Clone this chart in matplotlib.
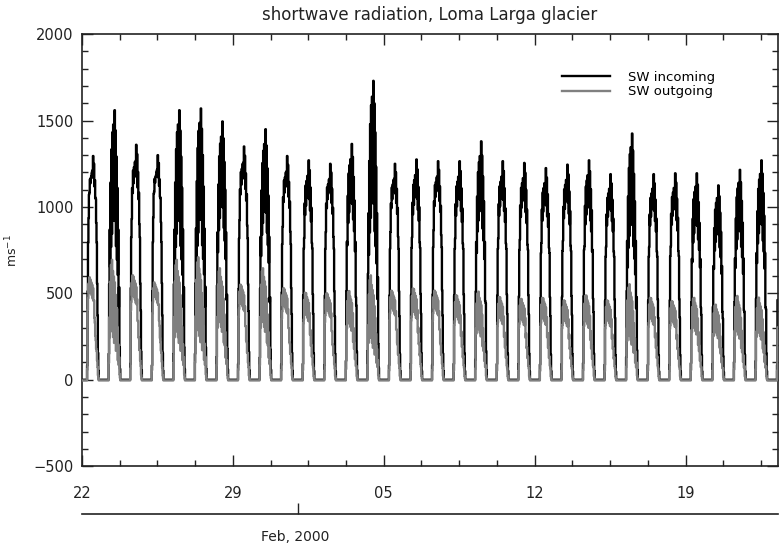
import numpy as np
import pandas as pd
import matplotlib
matplotlib.use("Agg")
import matplotlib.pyplot as plt
import matplotlib.dates as mdates
from matplotlib.ticker import FixedLocator, MultipleLocator

# ---------------------------------------------------------------------------
# Data (daily maxima)
# ---------------------------------------------------------------------------
START = "2000-01-22"
N_DAYS = 33

SW_IN_PEAK = [1295, 1560, 1360, 1300, 1560, 1570, 1495, 1350, 1450, 1295,
              1270, 1250, 1365, 1730, 1250, 1275, 1265, 1265, 1380, 1265,
              1255, 1225, 1245, 1270, 1190, 1425, 1190, 1195, 1195, 1125,
              1215, 1270, 1200]
SW_OUT_PEAK = [600, 700, 615, 570, 700, 715, 655, 560, 655, 540,
               515, 510, 525, 610, 525, 540, 525, 500, 520, 490,
               480, 485, 470, 500, 470, 560, 485, 465, 485, 445,
               495, 485, 480]
# share of "broken cloud" behaviour per day (0 = clear, 1 = very variable)
CLOUDINESS = [0.1, 0.9, 0.2, 0.1, 0.9, 0.9, 0.7, 0.2, 0.7, 0.2,
              0.3, 0.2, 0.5, 0.9, 0.2, 0.3, 0.2, 0.3, 0.6, 0.3,
              0.3, 0.3, 0.3, 0.4, 0.3, 0.8, 0.3, 0.3, 0.5, 0.5,
              0.6, 0.6, 0.3]

# half-hourly diurnal shapes (fraction of daily maximum)
IN_CLEAR = [0]*12 + [0.06, 0.40, 0.62, 0.76, 0.84, 0.88, 0.90, 0.92, 0.90,
                     0.95, 0.92, 0.97, 0.94, 1.00, 0.94, 0.97, 0.91, 0.90,
                     0.86, 0.82, 0.74, 0.62, 0.45, 0.28, 0.12, 0.04] + [0]*10
IN_CLOUDY = [0]*12 + [0.10, 0.35, 0.55, 0.38, 0.72, 0.45, 0.85, 0.50, 0.92,
                      0.55, 0.95, 0.60, 0.90, 1.00, 0.55, 0.92, 0.45, 0.82,
                      0.40, 0.70, 0.35, 0.55, 0.25, 0.35, 0.12, 0.04] + [0]*10
OUT_CLEAR = [0]*12 + [0.10, 0.70, 0.85, 0.95, 0.90, 1.00, 0.92, 0.97, 0.90,
                      0.95, 0.88, 0.93, 0.85, 0.90, 0.82, 0.78, 0.65, 0.55,
                      0.45, 0.38, 0.32, 0.28, 0.20, 0.12, 0.05, 0.02] + [0]*10
OUT_CLOUDY = [0]*12 + [0.15, 0.50, 0.30, 0.80, 0.40, 0.95, 0.50, 1.00, 0.35,
                       0.90, 0.30, 0.85, 0.25, 0.80, 0.30, 0.70, 0.20, 0.60,
                       0.25, 0.45, 0.15, 0.30, 0.12, 0.20, 0.05, 0.02] + [0]*10
OUT_NIGHT = -4

Y_TICKS = [-500, 0, 500, 1000, 1500, 2000]
X_TICK_DATES = ["2000-01-22", "2000-01-29", "2000-02-05", "2000-02-12", "2000-02-19"]

# ---------------------------------------------------------------------------
# Build the half-hourly series
# ---------------------------------------------------------------------------
times = pd.date_range(START, periods=N_DAYS * 48, freq="30min")
sw_in, sw_out = [], []
for d in range(N_DAYS):
    w = CLOUDINESS[d]
    for i in range(48):
        sw_in.append(SW_IN_PEAK[d] * ((1 - w) * IN_CLEAR[i] + w * IN_CLOUDY[i]))
        sw_out.append(SW_OUT_PEAK[d] * ((1 - w) * OUT_CLEAR[i] + w * OUT_CLOUDY[i])
                      + OUT_NIGHT)
df = pd.DataFrame({"time": times, "sw_in": sw_in, "sw_out": sw_out})

# ---------------------------------------------------------------------------
# Plot
# ---------------------------------------------------------------------------
plt.rcParams["font.family"] = ["DejaVu Sans"]
fig = plt.figure(figsize=(7.8, 5.51), dpi=100)
ax = fig.add_axes([0.105, 0.154, 0.892, 0.784])

ax.plot(df["time"], df["sw_in"], color="black", lw=1.7,
        drawstyle="steps-mid", label="SW incoming", zorder=2)
ax.plot(df["time"], df["sw_out"], color="0.5", lw=1.7,
        drawstyle="steps-mid", label="SW outgoing", zorder=3)

t0 = mdates.date2num(pd.Timestamp(START))
ax.set_xlim(t0, t0 + 32.27)
ax.set_ylim(-500, 2000)

major = [mdates.date2num(pd.Timestamp(s)) for s in X_TICK_DATES]
ax.xaxis.set_major_locator(FixedLocator(major))
ax.xaxis.set_minor_locator(FixedLocator(np.arange(t0, t0 + 33, 1.75)))
ax.xaxis.set_major_formatter(mdates.DateFormatter("%d"))
ax.set_yticks(Y_TICKS)
ax.yaxis.set_minor_locator(MultipleLocator(100))

ax.tick_params(which="both", direction="in", top=True, right=True,
               colors="#222222", labelsize=10.5)
ax.tick_params(which="major", length=8, width=1)
ax.tick_params(which="minor", length=4, width=1)
ax.tick_params(axis="x", which="major", pad=14)
ax.tick_params(axis="y", which="major", pad=6)
for s in ax.spines.values():
    s.set_linewidth(1.2)
    s.set_color("#222222")

ax.set_title("shortwave radiation, Loma Larga glacier", fontsize=12,
             color="#222222", pad=10)
ax.set_ylabel("ms$^{-1}$", fontsize=9, color="#222222")
ax.yaxis.set_label_coords(-0.088, 0.5)

ax.legend(loc="upper left", bbox_to_anchor=(0.683, 0.927), frameon=False,
          fontsize=9.5, handlelength=3.6, handletextpad=1.4,
          labelspacing=0.1, borderaxespad=0)

# secondary month axis below
ax2 = fig.add_axes([0.105, 0.067, 0.892, 0.0001])
ax2.set_xlim(ax.get_xlim())
for side in ["top", "left", "right"]:
    ax2.spines[side].set_visible(False)
ax2.spines["bottom"].set_linewidth(1.2)
ax2.spines["bottom"].set_color("#222222")
ax2.set_yticks([])
ax2.set_xticks([mdates.date2num(pd.Timestamp("2000-02-01"))])
ax2.set_xticklabels([])
ax2.tick_params(axis="x", direction="in", length=8, width=1, colors="#222222")
fig.text(0.379, 0.025, "Feb, 2000", fontsize=10, color="#222222",
         ha="center", va="center")

plt.savefig("out.png", dpi=100)
